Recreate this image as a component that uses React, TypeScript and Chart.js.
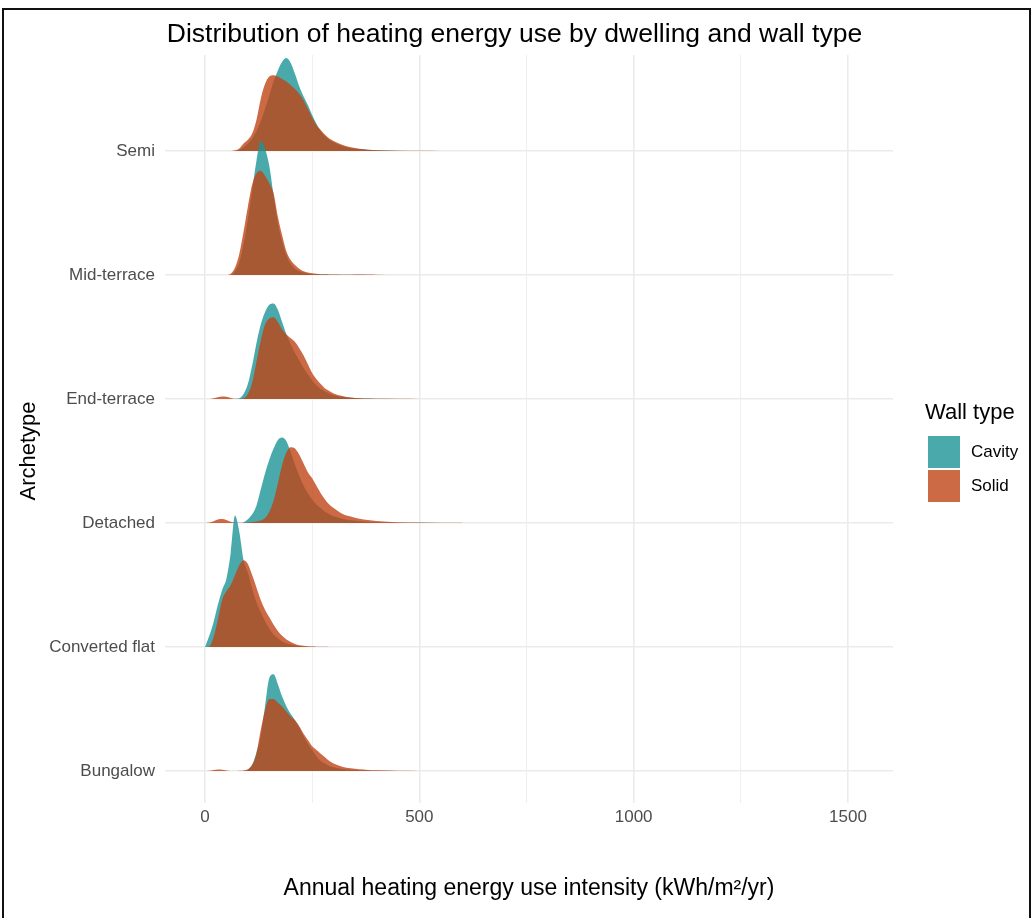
import React, { useEffect, useRef } from 'react';
import { Chart, registerables } from 'chart.js';

Chart.register(...registerables);

// Categories (bottom to top on the y axis)
const archetypes = ['Bungalow', 'Converted flat', 'Detached', 'End-terrace', 'Mid-terrace', 'Semi'];
const wallTypes = ['Cavity', 'Solid'];
const xTickValues = [0, 250, 500, 750, 1000, 1250, 1500];

const chartTitle = 'Distribution of heating energy use by dwelling and wall type';
const xTitle = 'Annual heating energy use intensity (kWh/m²/yr)';
const yTitle = 'Archetype';
const legendTitle = 'Wall type';

// Common x grid (kWh/m2/yr)
const intensityGrid = [0, 10, 20, 30, 40, 50, 60, 70, 80, 90, 100, 110, 120, 130, 140, 150, 160, 170, 180, 190, 200, 210, 220, 230, 240, 250, 260, 270, 280, 290, 300, 320, 340, 360, 380, 400, 450, 500, 550, 600];

// Scaled ridge heights (density) for each archetype / wall type
const semiCavity = [0, 0, 0, 0, 0, 0, 0, 0, 0.01, 0.03, 0.06, 0.1, 0.16, 0.24, 0.34, 0.45, 0.56, 0.65, 0.72, 0.75, 0.71, 0.62, 0.52, 0.44, 0.37, 0.29, 0.22, 0.16, 0.12, 0.09, 0.07, 0.04, 0.025, 0.015, 0.01, 0.006, 0.002, 0, 0, 0];
const semiSolid = [0, 0, 0, 0, 0, 0, 0, 0.005, 0.02, 0.06, 0.09, 0.14, 0.25, 0.42, 0.54, 0.6, 0.61, 0.6, 0.58, 0.56, 0.53, 0.5, 0.46, 0.41, 0.34, 0.27, 0.21, 0.17, 0.13, 0.1, 0.08, 0.05, 0.03, 0.018, 0.01, 0.006, 0.002, 0.001, 0, 0];
const midTerraceCavity = [0, 0, 0, 0, 0, 0, 0, 0.03, 0.1, 0.25, 0.45, 0.68, 0.92, 1.08, 1.02, 0.88, 0.64, 0.42, 0.27, 0.16, 0.09, 0.05, 0.03, 0.02, 0.012, 0.008, 0.005, 0.004, 0.003, 0.002, 0.002, 0.001, 0.001, 0.001, 0, 0, 0, 0, 0, 0];
const midTerraceSolid = [0, 0, 0, 0, 0, 0, 0.01, 0.06, 0.17, 0.35, 0.55, 0.73, 0.82, 0.84, 0.8, 0.74, 0.66, 0.47, 0.32, 0.19, 0.12, 0.08, 0.05, 0.03, 0.02, 0.013, 0.009, 0.006, 0.005, 0.004, 0.003, 0.002, 0.002, 0.003, 0.004, 0.002, 0, 0, 0, 0];
const endTerraceCavity = [0, 0, 0, 0, 0, 0, 0, 0, 0.005, 0.04, 0.12, 0.27, 0.45, 0.6, 0.7, 0.76, 0.77, 0.72, 0.62, 0.52, 0.44, 0.37, 0.31, 0.25, 0.2, 0.15, 0.11, 0.08, 0.06, 0.045, 0.03, 0.018, 0.01, 0.005, 0.003, 0.001, 0, 0, 0, 0];
const endTerraceSolid = [0, 0, 0.005, 0.015, 0.02, 0.018, 0.008, 0.002, 0, 0.005, 0.04, 0.13, 0.3, 0.47, 0.6, 0.65, 0.66, 0.62, 0.56, 0.52, 0.49, 0.46, 0.41, 0.35, 0.28, 0.21, 0.16, 0.12, 0.085, 0.065, 0.045, 0.025, 0.012, 0.006, 0.003, 0.002, 0.001, 0, 0, 0];
const detachedCavity = [0, 0, 0, 0, 0, 0, 0, 0, 0, 0.005, 0.03, 0.07, 0.14, 0.27, 0.4, 0.51, 0.6, 0.67, 0.69, 0.66, 0.57, 0.47, 0.38, 0.3, 0.24, 0.19, 0.15, 0.12, 0.09, 0.07, 0.055, 0.035, 0.022, 0.014, 0.009, 0.006, 0.002, 0.001, 0, 0];
const detachedSolid = [0, 0.003, 0.015, 0.028, 0.032, 0.025, 0.01, 0.003, 0.001, 0.002, 0.004, 0.008, 0.013, 0.02, 0.04, 0.09, 0.18, 0.32, 0.47, 0.57, 0.61, 0.6, 0.55, 0.48, 0.41, 0.36, 0.3, 0.24, 0.19, 0.15, 0.12, 0.075, 0.052, 0.035, 0.024, 0.017, 0.007, 0.004, 0.002, 0.001];
const convertedFlatCavity = [0, 0.09, 0.2, 0.34, 0.46, 0.55, 0.76, 1.06, 0.93, 0.7, 0.6, 0.47, 0.36, 0.28, 0.21, 0.15, 0.1, 0.07, 0.045, 0.03, 0.02, 0.012, 0.008, 0.005, 0.003, 0.002, 0.001, 0, 0, 0, 0, 0, 0, 0, 0, 0, 0, 0, 0, 0];
const convertedFlatSolid = [0, 0.005, 0.08, 0.22, 0.38, 0.45, 0.5, 0.58, 0.66, 0.7, 0.67, 0.58, 0.48, 0.38, 0.3, 0.24, 0.18, 0.13, 0.09, 0.06, 0.04, 0.025, 0.015, 0.01, 0.006, 0.004, 0.003, 0.002, 0.002, 0.001, 0.001, 0, 0, 0, 0, 0, 0, 0, 0, 0];
const bungalowCavity = [0, 0, 0, 0, 0, 0, 0, 0, 0, 0, 0.01, 0.05, 0.15, 0.28, 0.52, 0.75, 0.78, 0.7, 0.6, 0.52, 0.46, 0.41, 0.35, 0.28, 0.22, 0.17, 0.12, 0.08, 0.06, 0.04, 0.03, 0.017, 0.01, 0.006, 0.004, 0.002, 0.001, 0, 0, 0];
const bungalowSolid = [0, 0.002, 0.008, 0.012, 0.01, 0.004, 0.001, 0, 0.002, 0.005, 0.015, 0.05, 0.14, 0.33, 0.49, 0.58, 0.58, 0.55, 0.52, 0.48, 0.44, 0.41, 0.36, 0.3, 0.25, 0.2, 0.17, 0.14, 0.11, 0.08, 0.06, 0.035, 0.022, 0.014, 0.009, 0.006, 0.002, 0.001, 0, 0];

const cavityFill = 'rgba(29,149,150,0.8)';
const solidFill = 'rgba(191,69,23,0.8)';
const FONT = "'Liberation Sans', Arial, Helvetica, sans-serif";

// draw order: top ridge first, lower ridges on top
const ridges = [
  { name: 'Semi', cavity: semiCavity, solid: semiSolid },
  { name: 'Mid-terrace', cavity: midTerraceCavity, solid: midTerraceSolid },
  { name: 'End-terrace', cavity: endTerraceCavity, solid: endTerraceSolid },
  { name: 'Detached', cavity: detachedCavity, solid: detachedSolid },
  { name: 'Converted flat', cavity: convertedFlatCavity, solid: convertedFlatSolid },
  { name: 'Bungalow', cavity: bungalowCavity, solid: bungalowSolid },
];

const titlesPlugin = {
  id: 'ggTitles',
  afterDraw(chart: any) {
    const ctx = chart.ctx;
    ctx.save();
    ctx.fillStyle = '#000';
    ctx.textAlign = 'center';
    ctx.textBaseline = 'middle';
    ctx.font = `26.5px ${FONT}`;
    ctx.fillText(chartTitle, 514.5, 35);
    ctx.translate(29, 451);
    ctx.rotate(-Math.PI / 2);
    ctx.font = `22px ${FONT}`;
    ctx.fillText(yTitle, 0, 0);
    ctx.restore();
  },
};

export default function App() {
  const canvasRef = useRef<HTMLCanvasElement | null>(null);

  useEffect(() => {
    if (!canvasRef.current) return;
    const datasets: any[] = [];
    let drawIndex = 0;
    ridges.forEach((r) => {
      const base = archetypes.indexOf(r.name) + 1;
      [r.cavity, r.solid].forEach((vals, wi) => {
        datasets.push({
          label: `${r.name} ${wallTypes[wi]}`,
          data: intensityGrid.map((x, i) => ({ x, y: base + vals[i] })),
          backgroundColor: wi === 0 ? cavityFill : solidFill,
          borderColor: 'rgba(0,0,0,0)',
          borderWidth: 0,
          pointRadius: 0,
          cubicInterpolationMode: 'monotone',
          fill: { value: base },
          order: 100 - drawIndex,
        });
        drawIndex++;
      });
    });

    const chart = new Chart(canvasRef.current, {
      type: 'line',
      data: { datasets },
      plugins: [titlesPlugin],
      options: {
        animation: false,
        responsive: false,
        maintainAspectRatio: false,
        layout: { padding: { left: 0, right: 140, top: 55, bottom: 0 } },
        plugins: {
          legend: { display: false },
          tooltip: { enabled: false },
          title: { display: false },
        },
        scales: {
          x: {
            type: 'linear',
            min: -93.3,
            max: 1605,
            afterBuildTicks: (scale: any) => {
              scale.ticks = xTickValues.map((v) => ({ value: v }));
            },
            afterFit: (scale: any) => {
              scale.height = 115;
            },
            ticks: {
              color: '#4D4D4D',
              font: { family: FONT, size: 17 },
              padding: 4,
              maxRotation: 0,
              autoSkip: false,
              callback: (v: any) => (Number(v) % 500 === 0 ? String(v) : ''),
            },
            grid: {
              color: (ctx: any) => (ctx.tick && ctx.tick.value % 500 === 0 ? '#EBEBEB' : '#EFEFEF'),
              lineWidth: (ctx: any) => (ctx.tick && ctx.tick.value % 500 === 0 ? 1.6 : 1),
              drawTicks: false,
            },
            border: { display: false },
            title: {
              display: true,
              text: xTitle,
              color: '#000',
              font: { family: FONT, size: 23 },
              padding: { top: 0, bottom: 16 },
            },
          },
          y: {
            type: 'linear',
            min: 0.742,
            max: 6.774,
            afterBuildTicks: (scale: any) => {
              scale.ticks = archetypes.map((_, i) => ({ value: i + 1 }));
            },
            afterFit: (scale: any) => {
              scale.width = 165;
            },
            ticks: {
              color: '#4D4D4D',
              font: { family: FONT, size: 17 },
              padding: 10,
              autoSkip: false,
              callback: (v: any) => archetypes[Math.round(Number(v)) - 1] ?? '',
            },
            grid: {
              color: '#EBEBEB',
              lineWidth: 1.6,
              drawTicks: false,
            },
            border: { display: false },
            title: { display: false },
          },
        },
      } as any,
    });
    return () => chart.destroy();
  }, []);

  const legendItems = [
    { label: wallTypes[0], color: cavityFill },
    { label: wallTypes[1], color: solidFill },
  ];

  return (
    <div style={{ position: 'absolute', left: 0, top: 0, width: 1033, height: 918, overflow: 'hidden', background: '#fff' }}>
      <canvas ref={canvasRef} width={1033} height={918} style={{ position: 'absolute', left: 0, top: 0, width: 1033, height: 918 }} />
      <div style={{ position: 'absolute', left: 925, top: 399, fontFamily: FONT, color: '#000' }}>
        <div style={{ fontSize: 22, lineHeight: '26px', height: 26 }}>{legendTitle}</div>
        <div style={{ marginTop: 10 }}>
          {legendItems.map((it) => (
            <div key={it.label} style={{ display: 'flex', alignItems: 'center', height: 34, marginLeft: 3 }}>
              <div style={{ width: 32, height: 32, background: it.color }} />
              <span style={{ fontSize: 17, marginLeft: 11, color: '#000' }}>{it.label}</span>
            </div>
          ))}
        </div>
      </div>
      <div style={{ position: 'absolute', left: 2, top: 8, width: 1029, height: 930, border: '2px solid #111', borderBottom: 'none', boxSizing: 'border-box', pointerEvents: 'none' }} />
    </div>
  );
}
